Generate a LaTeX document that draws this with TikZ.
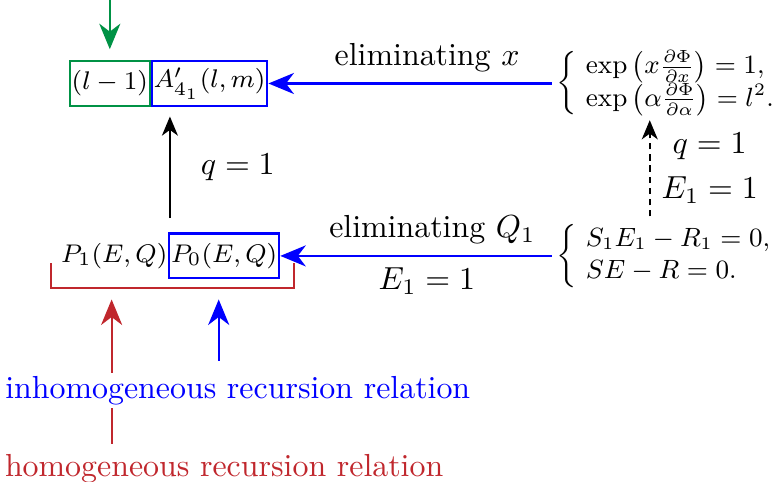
\documentclass[tikz,border=0pt]{standalone}
\usepackage{amsmath}
\usetikzlibrary{arrows.meta, positioning}
\definecolor{lgreen}{RGB}{0,146,69}
\definecolor{hred}{RGB}{192,39,45}

\begin{document}
\begin{tikzpicture}[
    box/.style={draw, line width=0.7pt, inner xsep=0.6pt, inner ysep=0pt, minimum height=14pt, font=\footnotesize},
    eqn/.style={anchor=west, inner xsep=1.5pt, scale=0.92, transform shape, font=\small\setlength{\arraycolsep}{3pt}},
    flow/.style={-{Stealth[length=8pt, width=6.6pt, inset=2.5pt]}, line width=0.7pt},
    kflow/.style={-{Stealth[length=6pt, width=5pt, inset=1.8pt]}, line width=0.7pt}
]
\useasboundingbox (0,0) rectangle (8.54,5.31);

% top row
\node[box, draw=lgreen] (lfac) at (1.21,4.39) {$(l-1)$};
\node[box, draw=blue] (aprime) at (2.31,4.39) {$A'_{4_1}(l,m)$};
\node[eqn] (eqtop) at (6.08,4.39) {$\left\{\begin{array}{l}
    \exp\left(x\frac{\partial\Phi}{\partial x}\right)=1,\\
    \exp\left(\alpha\frac{\partial\Phi}{\partial\alpha}\right)=l^2.
  \end{array}\right.$};

% bottom row
\node[box, draw=blue] (pzero) at (2.47,2.49) {$P_0(E,Q)$};
\node[left=0pt of pzero, inner xsep=0pt, font=\footnotesize] (pone) {$P_1(E,Q)$};
\node[eqn] (eqbot) at (6.08,2.49) {$\left\{\begin{array}{l}
    S_1E_1-R_1=0,\\
    SE-R=0.
  \end{array}\right.$};

\coordinate (gtop) at (1.21,5.6);
\draw[flow, draw=lgreen] (gtop) -- ([yshift=3.4pt]lfac.north);

\draw[flow, draw=blue] (eqtop.west) -- node[above, pos=0.44] {eliminating $x$} (aprime.east);
\draw[flow, draw=blue] (eqbot.west) -- node[above, pos=0.44] {eliminating $Q_1$}
    node[below, pos=0.46] {$E_1=1$} (pzero.east);

\draw[kflow] ([xshift=0.6pt, yshift=4.5pt]pzero.north west)
    -- node[right=6pt] {$q=1$} ([xshift=0.6pt, yshift=-3pt]pzero.north west |- aprime.south);
\draw[kflow, dash pattern=on 2pt off 1.5pt] ([xshift=1.08cm, yshift=-1pt]eqbot.north west)
    -- node[right, align=center] {$q=1$\\[2pt]$E_1=1$} ([xshift=1.08cm, yshift=2pt]eqbot.north west |- eqtop.south);

% bracket under P_1 P_0
\coordinate (brkl) at (0.56,2.41);
\coordinate (brkr) at (3.24,2.41);
\draw[hred, line width=0.7pt] (brkl) -- ++(0,-0.27) -| (brkr);

% labels below
\node[hred] (homrel) at (2.47,0.14) {homogeneous recursion relation};
\coordinate (hx) at (1.23,2.01);
\draw[flow, hred] (homrel.north -| hx) -- (hx);
\node[blue, fill=white, inner sep=1pt] (inhom) at (2.62,1.01) {inhomogeneous recursion relation};
\coordinate (bx) at (2.41,2.01);
\draw[flow, draw=blue] ([yshift=3.5pt]inhom.north -| bx) -- (bx);

\end{tikzpicture}
\end{document}
